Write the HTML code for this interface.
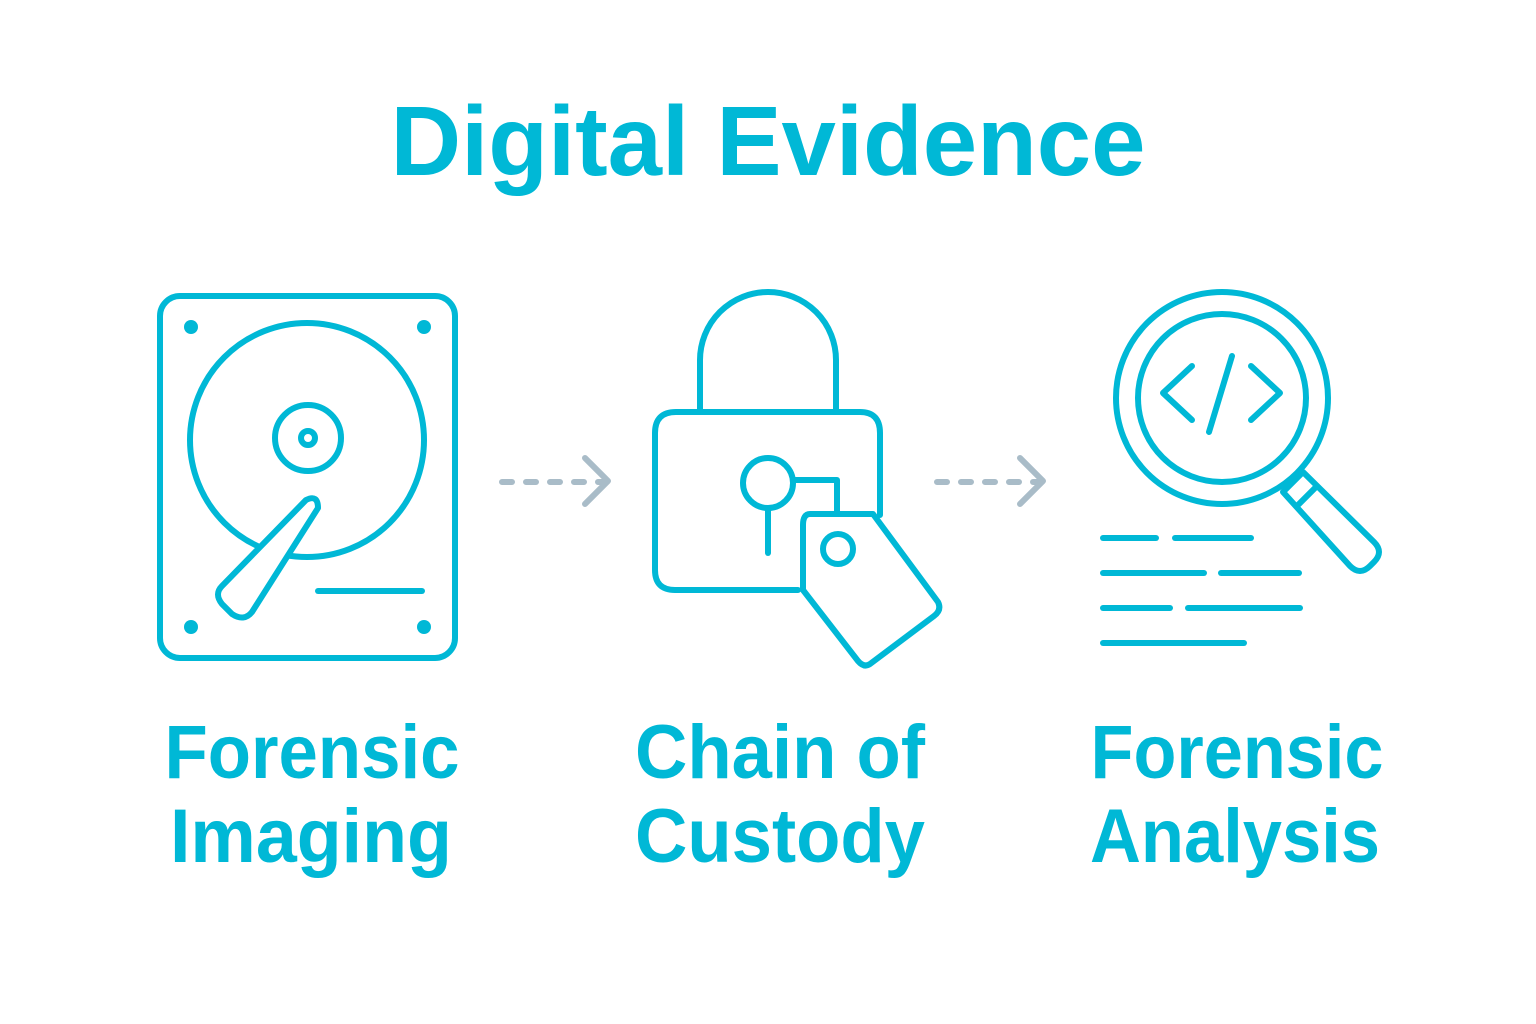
<!DOCTYPE html>
<html><head><meta charset="utf-8"><style>
html,body{margin:0;padding:0;background:#fff;}
svg{display:block;}
text{font-family:"Liberation Sans",sans-serif;font-weight:bold;fill:#00b8d6;}
</style></head><body>
<svg width="1536" height="1024" viewBox="0 0 1536 1024">
<text x="768" y="175" font-size="98" text-anchor="middle" textLength="755" lengthAdjust="spacingAndGlyphs">Digital Evidence</text>
<g stroke="#00b8d6" stroke-width="6" fill="none" stroke-linecap="round" stroke-linejoin="round">
<rect x="160" y="296" width="295" height="362" rx="20"/>
<circle cx="307" cy="440" r="117"/>
<circle cx="308" cy="438" r="33"/>
<circle cx="308" cy="438" r="7"/>
<path d="M306,500 Q318,494 318,508 L252,612 Q244,622 232,614 L222,604 Q214,594 222,586 Z" fill="#fff"/>
<line x1="318" y1="591" x2="422" y2="591"/>
<path d="M700,410 V360 A68,68 0 0 1 836,360 V410"/>
<path d="M798,590 H675 Q655,590 655,570 V433 Q655,412 676,412 H860 Q880,412 880,433 V515"/>
<circle cx="768" cy="483" r="25"/>
<line x1="768" y1="508" x2="768" y2="553"/>
<path d="M793,480 H837 V512"/>
<path d="M810,514 H873 L938,602 Q942,610 934,616 L870,664 Q864,668 858,661 L803,590 V525 Q803,514 810,514 Z" fill="#fff"/>
<circle cx="838" cy="549" r="15"/>
<path d="M1283,492 L1303,472 L1374,542 Q1384,552 1374,562 L1370,566 Q1360,576 1350,566 Z" fill="#fff"/>
<line x1="1297" y1="506" x2="1317" y2="486"/>
<circle cx="1222" cy="398" r="106"/>
<circle cx="1222" cy="398" r="84"/>
<path d="M1192,366 L1163,393 L1192,420"/>
<line x1="1232" y1="356" x2="1209" y2="432"/>
<path d="M1251,366 L1280,393 L1251,420"/>
<line x1="1103" y1="538" x2="1156" y2="538"/><line x1="1175" y1="538" x2="1251" y2="538"/>
<line x1="1103" y1="573" x2="1204" y2="573"/><line x1="1221" y1="573" x2="1299" y2="573"/>
<line x1="1103" y1="608" x2="1170" y2="608"/><line x1="1188" y1="608" x2="1300" y2="608"/>
<line x1="1103" y1="643" x2="1244" y2="643"/>
</g>
<g fill="#00b8d6"><circle cx="191" cy="327" r="7"/><circle cx="424" cy="327" r="7"/><circle cx="191" cy="627" r="7"/><circle cx="424" cy="627" r="7"/></g>
<g stroke="#a9bcc8" stroke-width="6" fill="none" stroke-linecap="round" stroke-linejoin="round">
<line x1="502" y1="482" x2="604" y2="482" stroke-dasharray="10,14"/>
<path d="M585,458 L608,481 L585,504"/>
<line x1="937" y1="482" x2="1040" y2="482" stroke-dasharray="10,14"/>
<path d="M1020,458 L1043,481 L1020,504"/>
</g>
<text x="312" y="778" font-size="76" text-anchor="middle" textLength="295" lengthAdjust="spacingAndGlyphs">Forensic</text>
<text x="311" y="862" font-size="76" text-anchor="middle" textLength="282" lengthAdjust="spacingAndGlyphs">Imaging</text>
<text x="780" y="778" font-size="76" text-anchor="middle" textLength="290" lengthAdjust="spacingAndGlyphs">Chain of</text>
<text x="780" y="862" font-size="76" text-anchor="middle" textLength="290" lengthAdjust="spacingAndGlyphs">Custody</text>
<text x="1237" y="778" font-size="76" text-anchor="middle" textLength="293" lengthAdjust="spacingAndGlyphs">Forensic</text>
<text x="1235" y="862" font-size="76" text-anchor="middle" textLength="290" lengthAdjust="spacingAndGlyphs">Analysis</text>
</svg>
</body></html>
